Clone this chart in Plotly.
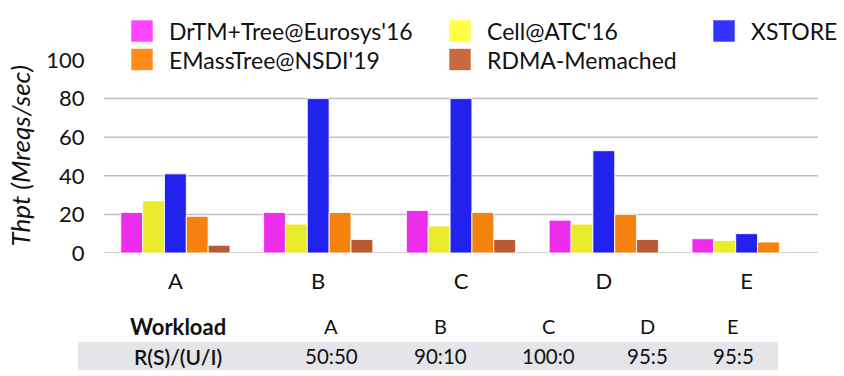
import plotly.graph_objects as go

W, H = 844, 376
ML, MR, MT, MB = 104, 26, 60, 123

workloads = ["A", "B", "C", "D", "E"]
ratios = ["50:50", "90:10", "100:0", "95:5", "95:5"]

series_names = ["DrTM+Tree@Eurosys'16", "Cell@ATC'16", "XSTORE", "EMassTree@NSDI'19", "RDMA-Memached"]
drtm = [21, 21, 22, 17, 7.4]
cell = [27, 15, 14, 15, 6.5]
xstore = [41, 80, 80, 53, 10]
emass = [19, 21, 21, 20, 5.7]
rdma = [4, 7, 7, 7, None]
series_values = [drtm, cell, xstore, emass, rdma]

bar_colors = ["#EC2EEC", "#EBEB2E", "#2222EE", "#F5820F", "#B85A33"]
legend_colors = ["#FF44FF", "#FFFF44", "#3333FF", "#FF8C1A", "#C8693F"]

yticks = [0, 20, 40, 60, 80, 100]
grid_vals = [0, 20, 40, 60, 80]

FONT = "Lato"

fig = go.Figure()
for name, vals, col in zip(series_names, series_values, bar_colors):
    fig.add_trace(go.Bar(
        x=workloads, y=vals, name=name,
        marker=dict(color=col, line=dict(color="rgba(255,255,255,0.85)", width=1)),
        showlegend=False,
    ))

pw = W - ML - MR
ph = H - MT - MB


def px_x(p):
    return (p - ML) / pw


def px_y(p):
    return (H - MB - p) / ph


shapes = []
for g in grid_vals:
    shapes.append(dict(type="line", xref="paper", yref="y", x0=0, x1=1, y0=g, y1=g,
                       line=dict(color="#C0C0C0", width=1.5), layer="below"))

# table background row
shapes.append(dict(type="rect", xref="paper", yref="paper",
                   x0=px_x(78), x1=px_x(778), y0=px_y(370), y1=px_y(342),
                   fillcolor="#E4E5E9", line=dict(width=0), layer="below"))

annotations = []

# manual legend
legend_layout = [  # (series index, swatch left px, row center px)
    (0, 131, 31), (1, 449, 31), (2, 713, 31),
    (3, 131, 59.5), (4, 449, 59.5),
]
for idx, sx, cy in legend_layout:
    shapes.append(dict(type="rect", xref="paper", yref="paper",
                       x0=px_x(sx), x1=px_x(sx + 22), y0=px_y(cy + 11), y1=px_y(cy - 11),
                       fillcolor=legend_colors[idx], line=dict(color="rgba(255,255,255,0.6)", width=1)))
    annotations.append(dict(xref="paper", yref="paper", x=px_x(sx + 36), y=px_y(cy),
                            xanchor="left", yanchor="middle", showarrow=False,
                            text=series_names[idx],
                            font=dict(family=FONT, size=23, color="#111111")))

# y-axis title
annotations.append(dict(xref="paper", yref="paper", x=px_x(19), y=0.5, textangle=-90,
                        xanchor="center", yanchor="middle", showarrow=False,
                        text="Thpt (Mreqs/sec)",
                        font=dict(family=FONT, size=26, color="#111111", style="italic")))

# table
col_x = [178, 331, 440, 548, 647, 733]
row1 = ["Workload"] + workloads
row2 = ["R(S)/(U/I)"] + ratios
for i, (cx, t1, t2) in enumerate(zip(col_x, row1, row2)):
    annotations.append(dict(xref="paper", yref="paper", x=px_x(cx), y=px_y(326),
                            xanchor="center", yanchor="middle", showarrow=False, text=t1,
                            font=dict(family=FONT, size=22 if i == 0 else 20, color="#111111",
                                      weight="bold" if i == 0 else "normal")))
    annotations.append(dict(xref="paper", yref="paper", x=px_x(cx), y=px_y(356),
                            xanchor="center", yanchor="middle", showarrow=False, text=t2,
                            font=dict(family=FONT, size=21 if i == 0 else 20.5, color="#111111",
                                      weight=600 if i == 0 else "normal")))

fig.update_layout(
    width=W, height=H,
    margin=dict(l=ML, r=MR, t=MT, b=MB),
    paper_bgcolor="white", plot_bgcolor="white",
    barmode="group", bargap=0.235, bargroupgap=0.0,
    font=dict(family=FONT, size=22, color="#111111"),
    shapes=shapes, annotations=annotations,
    xaxis=dict(showgrid=False, showline=False, ticks="outside", ticklen=9,
               tickcolor="rgba(0,0,0,0)", tickfont=dict(family=FONT, size=22, color="#111111")),
    yaxis=dict(range=[0, 100], tickvals=yticks, showgrid=False, zeroline=False, showline=False,
               ticks="outside", ticklen=14, tickcolor="rgba(0,0,0,0)",
               tickfont=dict(family=FONT, size=22, color="#111111")),
)

fig.write_html("out.html", config={"displayModeBar": False},
               post_script="document.body.style.margin='0';document.body.style.overflow='hidden';")
